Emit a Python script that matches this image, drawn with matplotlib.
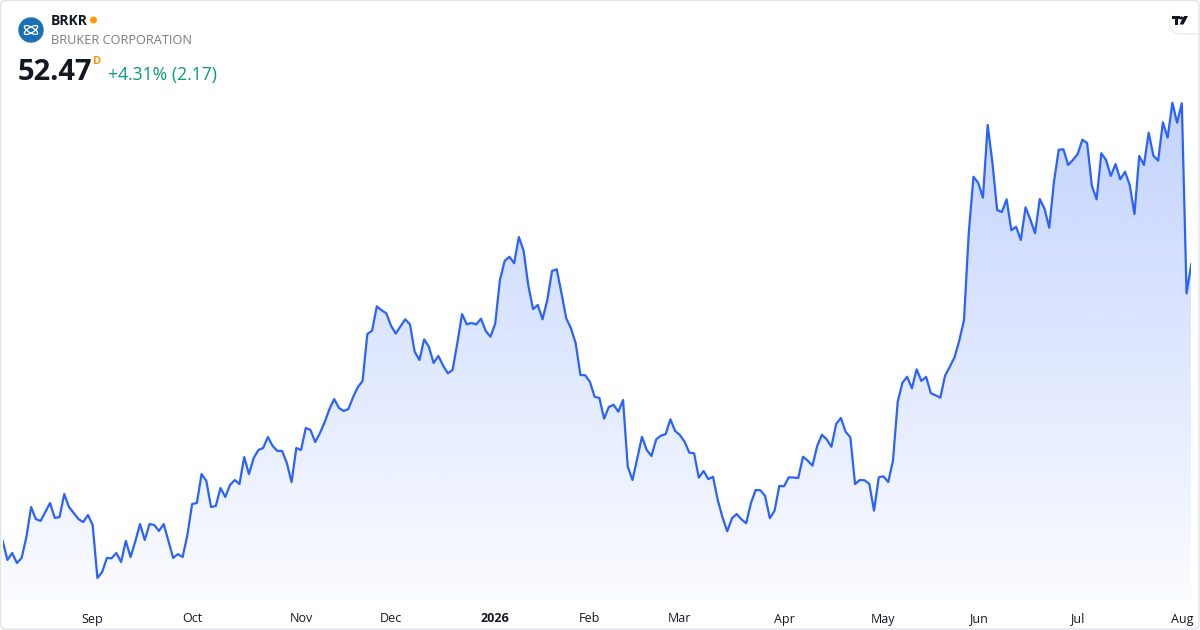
import matplotlib
matplotlib.use("Agg")
import matplotlib.pyplot as plt
import numpy as np
import pandas as pd
from matplotlib.patches import Circle, Ellipse, FancyBboxPatch, Polygon, Rectangle

# daily closes, BRKR, Aug 2025 -> Aug 2026
closes = [
    31.98, 30.57, 31.09, 30.35, 30.72, 32.27, 34.49, 33.60, 33.46, 34.12,
    34.79, 33.68, 33.75, 35.45, 34.49, 34.05, 33.60, 33.38, 33.90, 33.16,
    29.24, 29.68, 30.72, 30.70, 31.09, 30.42, 31.98, 30.79, 31.95, 33.23,
    32.05, 33.23, 33.16, 32.72, 33.23, 31.98, 30.72, 31.01, 30.79, 32.42,
    34.71, 34.79, 36.93, 36.42, 34.49, 34.57, 35.90, 35.23, 36.12, 36.49,
    36.19, 38.19, 36.93, 38.12, 38.71, 38.86, 39.67, 39.01, 38.64, 38.64,
    37.75, 36.34, 38.86, 38.71, 40.34, 40.19, 39.30, 39.97, 40.78, 41.74,
    42.48, 41.82, 41.60, 41.74, 42.63, 43.37,
    43.82, 47.29, 47.54, 49.34, 49.05, 48.83, 47.91, 47.32, 47.86, 48.38,
    48.01, 45.98, 45.37, 46.90, 46.35, 45.15, 45.67, 44.95, 44.39, 44.63,
    46.61, 48.77, 48.01, 48.11, 48.00, 48.43, 47.52, 47.09, 48.06, 51.29,
    52.70, 53.01, 52.53, 54.47, 53.46, 50.87, 49.14, 49.44, 48.38, 49.81,
    51.96, 52.08,
    50.31, 48.46, 47.72, 46.61, 44.26, 44.24, 43.76, 42.65, 42.56, 41.03,
    41.89, 42.06, 41.54, 42.41, 37.47, 36.49, 38.10, 39.69, 38.71, 38.27,
    39.50, 39.77, 39.89, 40.98, 40.12, 39.82, 39.32, 38.51, 38.47, 36.66,
    37.16, 36.56, 36.73, 35.01, 33.73, 32.69, 33.66, 33.97, 33.58, 33.29,
    34.77, 35.75, 35.73, 35.31, 33.66, 34.22, 36.05, 36.03, 36.69, 36.67,
    36.64, 38.21, 37.92, 37.55, 39.01, 39.84, 39.50, 38.95, 40.63, 41.08,
    40.06, 39.65, 36.19, 36.49, 36.47, 36.20, 34.22, 36.69, 36.76, 36.34,
    37.92, 42.28, 43.69, 44.13, 43.28, 44.68, 43.82, 44.12, 42.91, 42.76,
    42.58, 44.21, 44.87, 45.57, 46.80, 48.33,
    54.75, 58.93, 58.49, 57.38, 62.76, 59.97, 56.47, 56.32, 57.26, 54.97,
    55.23, 54.25, 56.67, 55.78, 54.75, 57.28, 56.57, 55.16, 58.56, 60.93,
    60.96, 59.80, 60.17, 60.61, 61.67, 61.43, 58.27, 57.26, 60.67, 60.17,
    58.99, 59.87, 58.74, 59.30, 58.32, 56.17, 60.47, 59.80, 62.19, 60.49,
    60.12, 62.96, 61.82, 64.41, 62.93, 64.37, 50.30, 52.47,
]

holidays = ['2025-09-01', '2025-11-27', '2025-12-25', '2026-01-01', '2026-01-19',
            '2026-02-16', '2026-04-03', '2026-05-25', '2026-06-19', '2026-07-03']
dates = pd.bdate_range('2025-08-05', '2026-08-20')
dates = dates[~dates.isin(pd.to_datetime(holidays))][:len(closes)]

ticker = 'BRKR'
company = 'BRUKER CORPORATION'
last = closes[-1]
chg = closes[-1] - closes[-2]
pct = chg / closes[-2] * 100

FONT = ['Open Sans', 'Noto Sans', 'DejaVu Sans']
blue = '#2962FF'
x = np.arange(len(closes))
y = np.array(closes)

fig = plt.figure(figsize=(12, 6.3), dpi=100)
fig.patch.set_facecolor('white')
ax = fig.add_axes([2.7 / 1200, 30 / 630, (1191.3 - 2.7) / 1200, 600 / 630])
ylo, yhi = 27.61, 72.01
ax.set_xlim(0, len(closes) - 1)
ax.set_ylim(ylo, yhi)

# gradient area under the line
poly = ax.fill_between(x, y, ylo, color='none', lw=0)
grad = np.zeros((256, 1, 4))
grad[..., 0], grad[..., 1], grad[..., 2] = 41 / 255, 98 / 255, 1.0
grad[:, 0, 3] = np.linspace(0.02, 0.28, 256)
img = ax.imshow(grad, extent=[0, len(closes) - 1, ylo, y.max()], origin='lower',
                aspect='auto', zorder=1)
img.set_clip_path(poly.get_paths()[0], transform=ax.transData)
ax.plot(x, y, color=blue, lw=1.6, zorder=3, solid_joinstyle='round')

# month ticks on first trading day of each month
months = pd.Series(dates.to_period('M'))
first_idx = [i for i in range(1, len(dates)) if months[i] != months[i - 1]]
labels = []
for i in first_idx:
    d = dates[i]
    labels.append(str(d.year) if d.month == 1 else d.strftime('%b'))
ax.set_xticks(first_idx)
ax.set_xticklabels(labels, fontsize=9, color='#131722', family=FONT)
for t in ax.get_xticklabels():
    if t.get_text().isdigit():
        t.set_fontweight('bold')
ax.tick_params(axis='x', length=0, pad=9)
ax.set_yticks([])
for s in ax.spines.values():
    s.set_visible(False)
ax.set_facecolor('none')

# overlay in pixel coords for the header bits
ov = fig.add_axes([0, 0, 1, 1], zorder=5)
ov.set_xlim(0, 1200)
ov.set_ylim(630, 0)
ov.axis('off')
ov.patch.set_alpha(0)

# company logo
ov.add_patch(Circle((31, 30), 12, color='#1b70b5'))
ov.add_patch(Ellipse((31, 30), 15, 5.5, angle=30, fill=False, ec='white', lw=0.9))
ov.add_patch(Ellipse((31, 30), 15, 5.5, angle=-30, fill=False, ec='white', lw=0.9))

ov.text(51, 21, ticker, fontsize=10, fontweight='bold', color='#131722',
        family=FONT, va='center')
ov.add_patch(Circle((93.5, 20), 2.8, color='#ff9800'))
ov.text(51, 41, company, fontsize=9.2, color='#787b86', family=FONT, va='center')
ov.text(18, 72, f'{last:.2f}', fontsize=21, fontweight='bold',
        color='#131722', family=FONT, va='center')
ov.text(93, 61, 'D', fontsize=8, fontweight='bold', color='#ff9800',
        family=FONT, va='center')
ov.text(108, 75, f'+{pct:.2f}% ({chg:.2f})', fontsize=12.7,
        color='#089981', family=FONT, va='center')

# tradingview badge
ov.add_patch(FancyBboxPatch((1169, 8), 45, 27, boxstyle='round,pad=0,rounding_size=12',
                            fc='#eef0f4', ec='none'))
ov.add_patch(FancyBboxPatch((1170, 7), 45, 26, boxstyle='round,pad=0,rounding_size=12',
                            fc='white', ec='none'))
ov.add_patch(Rectangle((1172, 16), 8, 3.4, color='#131722', lw=0))
ov.add_patch(Rectangle((1174.6, 16), 3, 8.5, color='#131722', lw=0))
ov.add_patch(Circle((1181.5, 18), 1.6, color='#131722', lw=0))
ov.add_patch(Polygon([(1184, 16), (1188, 16), (1183.5, 24.5), (1179.5, 24.5)],
                     closed=True, color='#131722', lw=0))

# outer border
ov.add_patch(FancyBboxPatch((0.5, 0.5), 1198.5, 628.5, boxstyle='round,pad=0,rounding_size=5',
                            fc='none', ec='#e0e3eb', lw=1))

fig.savefig('out.png', dpi=100, facecolor='white')
